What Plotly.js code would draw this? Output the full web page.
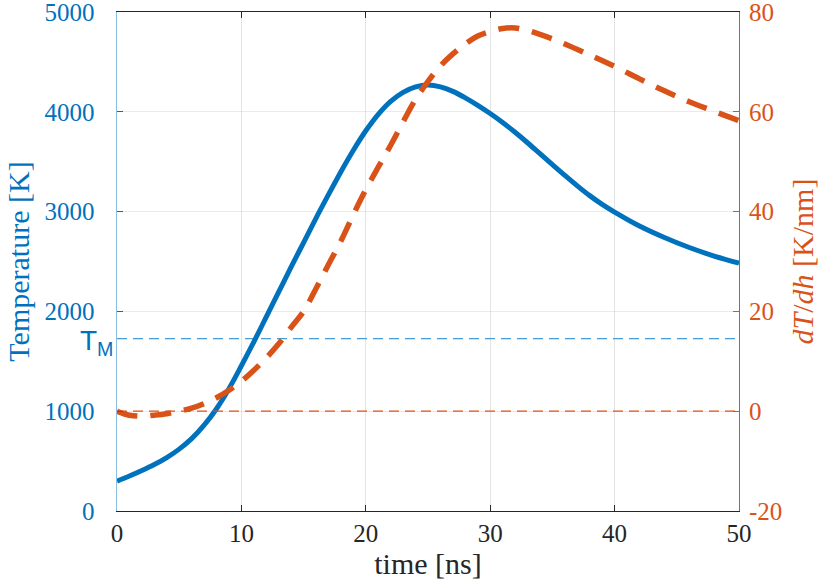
<!DOCTYPE html>
<html>
<head>
<meta charset="utf-8">
<script src="https://cdn.plot.ly/plotly-3.0.1.min.js"></script>
<style>
  html, body { margin: 0; padding: 0; background: #fff; }
  #chart { width: 830px; height: 587px; }
</style>
</head>
<body>
<div id="chart"></div>
<script>
// Temperature trace (left axis)
const timeTemp = [0, 1, 2, 3, 4, 5, 6, 7, 8, 9, 10, 11, 12, 13, 14, 15, 16, 17, 18, 19, 20, 21, 22, 23, 24, 25, 26, 27, 28, 29, 30, 31, 32, 33, 34, 35, 36, 37, 38, 39, 40, 42, 44, 46, 48, 50];
const tempK = [300, 350, 405, 465, 535, 620, 725, 860, 1025, 1225, 1455, 1695, 1945, 2195, 2445, 2690, 2935, 3170, 3400, 3615, 3810, 3975, 4105, 4195, 4250, 4268, 4250, 4205, 4140, 4065, 3983, 3893, 3795, 3690, 3580, 3470, 3362, 3258, 3160, 3072, 2995, 2855, 2740, 2640, 2555, 2483];

// Temperature gradient trace (right axis)
const timeGrad = [0, 1, 2, 3, 4, 5, 6, 7, 8, 9, 10, 11, 12, 13, 14, 15, 16, 17, 18, 19, 20, 21, 22, 23, 24, 25, 26, 27, 28, 29, 30, 31, 32, 33, 34, 35, 36, 38, 40, 42, 44, 46, 48, 50];
const gradKnm = [0, -0.8, -1.0, -0.8, -0.5, 0, 0.6, 1.5, 2.7, 4.2, 6, 8.2, 10.7, 13.5, 16.8, 20.0, 24.6, 29.4, 34.1, 39.4, 44.4, 48.9, 53.3, 58.0, 62.5, 66.1, 69.2, 71.6, 73.6, 75.2, 76.1, 76.7, 76.8, 76.3, 75.5, 74.6, 73.6, 71.4, 69.1, 66.6, 64.2, 62.0, 60.1, 58.2];

// Reference lines
const meltTemp = 1728;
const refSpan = [0, 50];

// Tick values
const xTicks = [0, 10, 20, 30, 40, 50];
const leftTicks = [0, 1000, 2000, 3000, 4000, 5000];
const rightTicks = [-20, 0, 20, 40, 60, 80];
const rightTickText = ['-20', '0', '20', '40', '60', '80'];

const BLUE = '#0072BD';
const ORANGE = '#D95319';
const SERIF = 'Liberation Serif';

const traces = [
  {
    x: refSpan, y: [meltTemp, meltTemp],
    mode: 'lines', yaxis: 'y', hoverinfo: 'skip',
    line: { color: '#4a9bd4', width: 1.3, dash: '10px,6px' }
  },
  {
    x: refSpan, y: [0, 0],
    mode: 'lines', yaxis: 'y2', hoverinfo: 'skip',
    line: { color: ORANGE, width: 1.3, dash: '10px,6px' }
  },
  {
    x: timeTemp, y: tempK,
    mode: 'lines', yaxis: 'y', name: 'Temperature',
    line: { color: BLUE, width: 5, shape: 'spline', smoothing: 1 }
  },
  {
    x: timeGrad, y: gradKnm,
    mode: 'lines', yaxis: 'y2', name: 'dT/dh',
    line: { color: ORANGE, width: 5.5, shape: 'spline', smoothing: 1, dash: '21px,13px' }
  }
];

const layout = {
  width: 830,
  height: 587,
  margin: { l: 117, r: 91, t: 12, b: 76 },
  paper_bgcolor: '#fff',
  plot_bgcolor: '#fff',
  font: { family: SERIF, size: 25, color: '#262626' },
  showlegend: false,
  xaxis: {
    range: [0, 50],
    tickvals: xTicks,
    ticks: 'inside', ticklen: 6, tickcolor: '#262626',
    showline: true, linecolor: '#262626', linewidth: 1, mirror: 'ticks',
    showgrid: true, gridcolor: '#e4e4e4', gridwidth: 1,
    zeroline: false,
    ticklabeloverflow: 'allow',
    tickfont: { family: SERIF, size: 25, color: '#262626' },
    title: { text: 'time [ns]', font: { family: SERIF, size: 30, color: '#262626' }, standoff: 6 }
  },
  yaxis: {
    range: [0, 5000],
    tickvals: leftTicks,
    ticks: 'inside', ticklen: 6, tickcolor: BLUE,
    showline: true, linecolor: '#8cc0e3', linewidth: 1.5,
    showgrid: true, gridcolor: 'rgba(0,114,189,0.12)', gridwidth: 1,
    zeroline: false,
    ticklabelstandoff: 16,
    ticklabeloverflow: 'allow',
    tickfont: { family: SERIF, size: 25, color: BLUE },
    title: { text: 'Temperature [K]', font: { family: SERIF, size: 30, color: BLUE }, standoff: 6 }
  },
  yaxis2: {
    range: [-20, 80],
    tickvals: rightTicks,
    ticktext: rightTickText,
    overlaying: 'y', side: 'right',
    ticks: 'inside', ticklen: 6, tickcolor: ORANGE,
    showline: true, linecolor: ORANGE, linewidth: 1,
    showgrid: false, zeroline: false,
    ticklabelstandoff: 4,
    ticklabeloverflow: 'allow',
    tickfont: { family: SERIF, size: 25, color: ORANGE },
    title: { text: '<i>dT</i>/<i>dh</i> [K/nm]', font: { family: SERIF, size: 30, color: ORANGE }, standoff: 10 }
  },
  annotations: [
    {
      xref: 'paper', yref: 'y', x: 0, y: meltTemp,
      xanchor: 'right', yanchor: 'middle', xshift: -2, yshift: -4,
      text: 'T<sub>M</sub>', showarrow: false,
      font: { family: 'Liberation Sans', size: 28, color: BLUE }
    }
  ]
};

Plotly.newPlot('chart', traces, layout, { displayModeBar: false, staticPlot: true });
</script>
</body>
</html>
